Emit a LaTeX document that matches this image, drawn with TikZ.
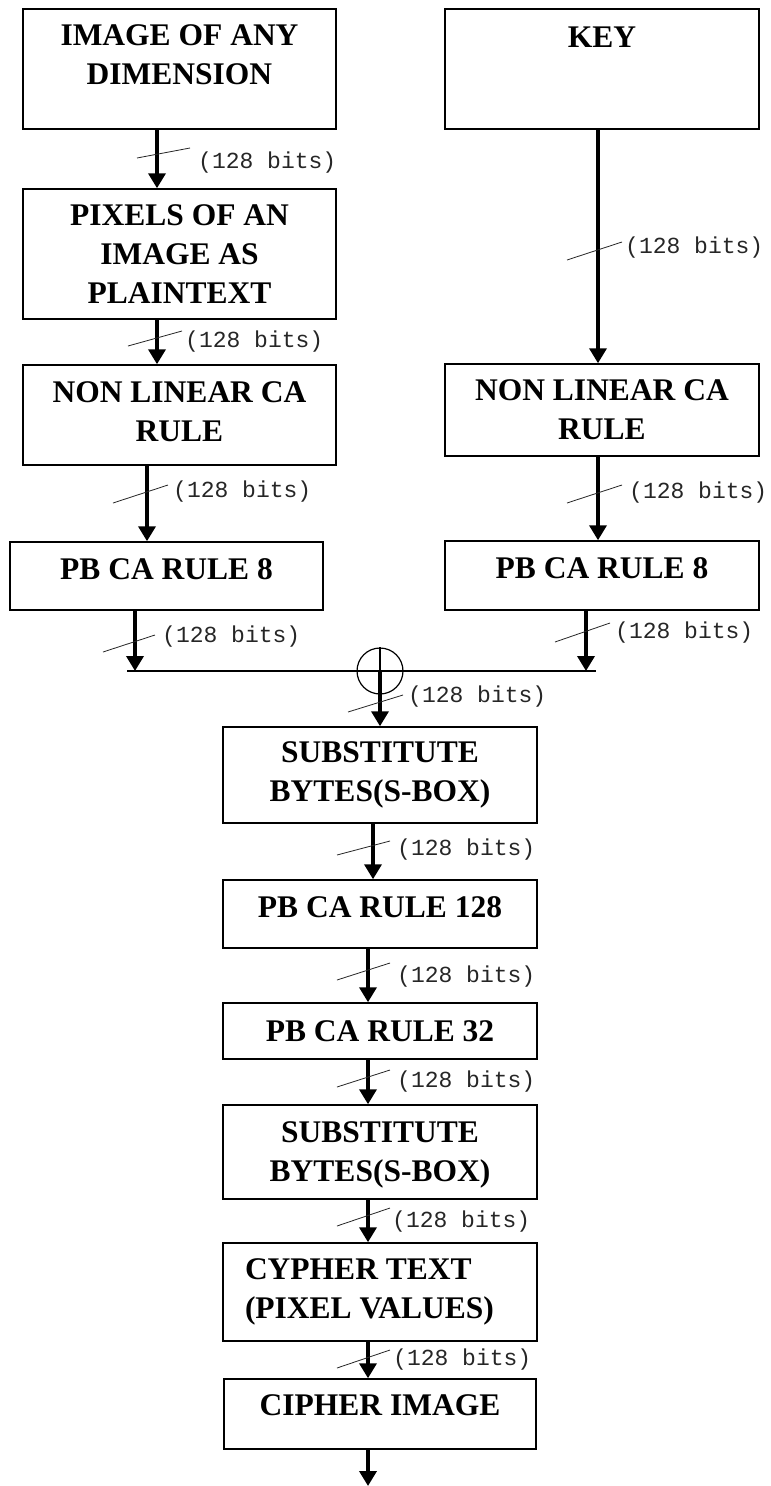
\documentclass[tikz,border=0pt]{standalone}
\usepackage{fontspec}
\setmainfont{Liberation Serif}
\newfontfamily\bitsfont{Liberation Mono}
\usetikzlibrary{arrows.meta,calc}

\begin{document}
\begin{tikzpicture}[x=1pt,y=-1pt,
  blockbox/.style={draw, line width=1.5pt, rectangle, inner sep=0pt, align=center,
    font=\fontsize{31.5}{39}\selectfont\bfseries},
  flow/.style={line width=3.6pt, -{Triangle[width=17pt,length=15pt]}},
  busline/.style={line width=1.5pt},
  tick/.style={line width=0.8pt, draw=black!85},
  bits/.style={font=\bitsfont\fontsize{23}{23}\selectfont, text=black!85, anchor=west, inner sep=0pt},
]
\fill[white] (0,0) rectangle (771,1486);
\useasboundingbox (0,0) rectangle (771,1486);

% ---- plaintext branch ----
\node[blockbox, minimum width=313pt, minimum height=120pt, text depth=28pt] (img) at (179.5,69) {IMAGE OF ANY\\DIMENSION};
\node[blockbox, minimum width=313pt, minimum height=130pt] (pix) at (179.5,254) {PIXELS OF AN\\IMAGE AS\\PLAINTEXT};
\node[blockbox, minimum width=313pt, minimum height=100pt, text depth=7pt] (nlL) at (179.5,415) {NON LINEAR CA\\RULE};
\node[blockbox, minimum width=313pt, minimum height=68pt, text depth=14pt] (pbL) at (166.5,576) {PB CA RULE 8};

% ---- key branch ----
\node[blockbox, minimum width=314pt, minimum height=120pt, text depth=64pt] (key) at (602,69) {KEY};
\node[blockbox, minimum width=314pt, minimum height=92pt] (nlR) at (602,410) {NON LINEAR CA\\RULE};
\node[blockbox, minimum width=314pt, minimum height=69pt, text depth=14pt] (pbR) at (602,575.5) {PB CA RULE 8};

% ---- combining and main chain ----
\node[draw, circle, line width=1.2pt, minimum size=46pt, inner sep=0pt] (xor) at (380,671) {};
\node[blockbox, minimum width=314pt, minimum height=96pt] (sb1) at (380,775) {SUBSTITUTE\\BYTES(S-BOX)};
\node[blockbox, minimum width=314pt, minimum height=68pt, text depth=14pt] (pb128) at (380,914) {PB CA RULE 128};
\node[blockbox, minimum width=314pt, minimum height=56pt] (pb32) at (380,1031) {PB CA RULE 32};
\node[blockbox, minimum width=314pt, minimum height=94pt, text depth=0pt] (sb2) at (380,1152) {SUBSTITUTE\\BYTES(S-BOX)};
\node[blockbox, minimum width=314pt, minimum height=98pt, text width=270pt, align=flush left] (cyt) at (380,1292) {CYPHER TEXT\\(PIXEL VALUES)};
\node[blockbox, minimum width=312pt, minimum height=70pt, text depth=18pt] (cim) at (380,1414) {CIPHER IMAGE};

% bus joining both branches
\coordinate (busL) at (127,671);
\coordinate (busR) at (596,671);
\draw[busline] (busL) -- (busR);
\draw[line width=1.2pt] (xor.north) -- (xor.south);

% ---- connectors ----
\draw[flow] ([xshift=-22.5pt]img.south) -- ([xshift=-22.5pt]pix.north);
\draw[flow] ([xshift=-22.5pt]pix.south) -- ([xshift=-22.5pt]nlL.north);
\draw[flow] ([xshift=-32.5pt]nlL.south) -- ([xshift=-19.5pt]pbL.north);
\coordinate (tapL) at ([xshift=-31.5pt]pbL.south);
\draw[flow] (tapL) -- (tapL |- busL);

\draw[flow] ([xshift=-4pt]key.south) -- ([xshift=-4pt]nlR.north);
\draw[flow] ([xshift=-4pt]nlR.south) -- ([xshift=-4pt]pbR.north);
\coordinate (tapR) at ([xshift=-16pt]pbR.south);
\draw[flow] (tapR) -- (tapR |- busR);

\draw[flow] (xor.center) -- (xor |- sb1.north);
\draw[flow] ([xshift=-7pt]sb1.south) -- ([xshift=-7pt]pb128.north);
\draw[flow] ([xshift=-12pt]pb128.south) -- ([xshift=-12pt]pb32.north);
\draw[flow] ([xshift=-12pt]pb32.south) -- ([xshift=-12pt]sb2.north);
\draw[flow] ([xshift=-12pt]sb2.south) -- ([xshift=-12pt]cyt.north);
\draw[flow] ([xshift=-12pt]cyt.south) -- ([xshift=-12pt]cim.north);
\coordinate (exitpt) at (368,1486);
\draw[flow] ([xshift=-12pt]cim.south) -- (exitpt);

% ---- bus-width marks ----
\draw[tick] (137,158) -- (190,148);   \node[bits] (w1) at (198,163) {(128 bits)};
\draw[tick] (128,346) -- (182,331);   \node[bits] (w2) at (185,342) {(128 bits)};
\draw[tick] (113,503) -- (168,485);   \node[bits] (w3) at (173,492) {(128 bits)};
\draw[tick] (103,652) -- (155,635);   \node[bits] (w4) at (162,637) {(128 bits)};
\draw[tick] (567,260) -- (622,242);   \node[bits] (w5) at (625,248) {(128 bits)};
\draw[tick] (567,503) -- (622,485);   \node[bits] (w6) at (629,493) {(128 bits)};
\draw[tick] (555,642) -- (610,623);   \node[bits] (w7) at (615,633) {(128 bits)};
\draw[tick] (348,712) -- (403,695);   \node[bits] (w8) at (408,697) {(128 bits)};
\draw[tick] (337,855) -- (390,841);   \node[bits] (w9) at (397,850) {(128 bits)};
\draw[tick] (337,980) -- (390,963);   \node[bits] (w10) at (397,977) {(128 bits)};
\draw[tick] (337,1087) -- (390,1070); \node[bits] (w11) at (397,1082) {(128 bits)};
\draw[tick] (337,1226) -- (390,1208); \node[bits] (w12) at (392,1222) {(128 bits)};
\draw[tick] (337,1368) -- (390,1350); \node[bits] (w13) at (393,1360) {(128 bits)};
\end{tikzpicture}
\end{document}
